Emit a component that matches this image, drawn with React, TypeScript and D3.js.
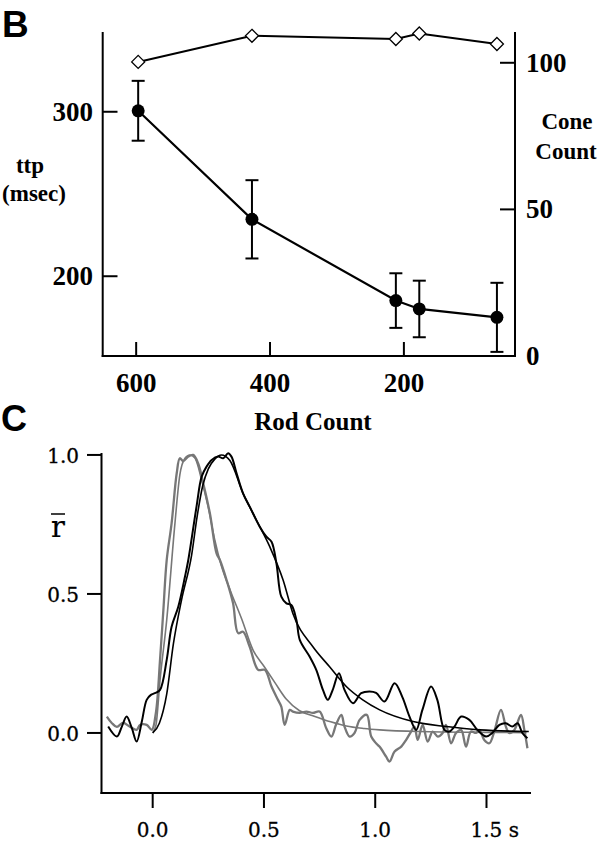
import React from "react";
import * as d3 from "d3";

// Panel B data
const rodCount = [597, 427, 212, 177, 61];
const ttpMean = [300.6, 234.6, 185.2, 180.1, 175.0];
const ttpErr = [18.2, 23.8, 16.6, 17.2, 21.0];
const coneCount = [100.3, 109.2, 108.1, 110.0, 106.4];
const rodTicks = [600, 400, 200];
const ttpTicks = [200, 300];
const coneTicks = [0, 50, 100];

// Panel C data [time s, normalized response]
const rTicks = [0, 0.5, 1.0];
const timeTicks = [0, 0.5, 1.0, 1.5];

const grayTrace: [number, number][] = [
  [-0.206, 0.059], [-0.184, 0.036], [-0.161, 0.022], [-0.133, 0.036], [-0.102, 0.022],
  [-0.072, 0.011], [-0.057, 0.029], [-0.027, 0.029], [-0.004, 0.011], [0.015, 0.076],
  [0.033, 0.263], [0.048, 0.442], [0.063, 0.622], [0.085, 0.754], [0.108, 0.934],
  [0.122, 0.988], [0.137, 0.978], [0.160, 0.994], [0.182, 1.0], [0.204, 0.970],
  [0.227, 0.898], [0.257, 0.790], [0.287, 0.646], [0.302, 0.622], [0.332, 0.550],
  [0.361, 0.467], [0.384, 0.359], [0.406, 0.364], [0.436, 0.310], [0.474, 0.227],
  [0.504, 0.227], [0.534, 0.167], [0.563, 0.119], [0.578, 0.095], [0.593, 0.029],
  [0.616, 0.083], [0.630, 0.077], [0.660, 0.072], [0.691, 0.077], [0.720, 0.072],
  [0.750, 0.077], [0.780, 0.017], [0.803, -0.013], [0.825, 0.032], [0.848, 0.065],
  [0.862, 0.023], [0.885, -0.013], [0.907, 0.0], [0.930, 0.047], [0.962, 0.065],
  [0.982, -0.013], [1.004, -0.037], [1.019, -0.049], [1.049, -0.085], [1.064, -0.103],
  [1.087, -0.067], [1.117, -0.049], [1.139, -0.025], [1.161, 0.005], [1.176, 0.023],
  [1.191, -0.025], [1.213, 0.029], [1.236, -0.031], [1.258, 0.005], [1.281, -0.013],
  [1.303, 0.0], [1.318, 0.029], [1.341, -0.037], [1.363, 0.0], [1.386, 0.011],
  [1.408, -0.049], [1.430, 0.005], [1.453, 0.0], [1.468, 0.011], [1.490, -0.025],
  [1.513, -0.037], [1.535, 0.005], [1.565, 0.083], [1.587, 0.023], [1.602, 0.0],
  [1.625, 0.011], [1.655, 0.065], [1.670, 0.011], [1.684, -0.055],
];

const grayFit: [number, number][] = [
  [0, 0], [0.015, 0.029], [0.033, 0.19], [0.063, 0.406], [0.1, 0.754], [0.122, 0.928],
  [0.145, 0.988], [0.167, 1.0], [0.19, 0.989], [0.22, 0.91], [0.249, 0.814], [0.279, 0.694],
  [0.309, 0.6], [0.35, 0.51], [0.4, 0.41], [0.45, 0.3], [0.5, 0.24], [0.55, 0.18],
  [0.6, 0.122], [0.66, 0.08], [0.72, 0.062], [0.8, 0.04], [0.87, 0.025], [0.95, 0.016],
  [1.02, 0.011], [1.2, 0.005], [1.5, 0.002], [1.68, 0.001],
];

const blackTrace: [number, number][] = [
  [-0.2, 0.023], [-0.161, -0.013], [-0.139, 0.022], [-0.117, 0.059], [-0.094, 0.018],
  [-0.072, -0.031], [-0.049, 0.04], [-0.027, 0.119], [-0.008, 0.137], [0.01, 0.143],
  [0.033, 0.155], [0.063, 0.263], [0.085, 0.382], [0.115, 0.454], [0.145, 0.562],
  [0.16, 0.622], [0.197, 0.814], [0.22, 0.922], [0.242, 0.958], [0.265, 0.982],
  [0.294, 0.994], [0.317, 0.988], [0.339, 1.006], [0.354, 0.994], [0.377, 0.934],
  [0.406, 0.862], [0.436, 0.814], [0.481, 0.742], [0.511, 0.706], [0.534, 0.688],
  [0.556, 0.61], [0.578, 0.49], [0.601, 0.466], [0.623, 0.46], [0.646, 0.406],
  [0.661, 0.335], [0.705, 0.275], [0.735, 0.227], [0.765, 0.155], [0.787, 0.119],
  [0.809, 0.155], [0.837, 0.215], [0.862, 0.155], [0.9, 0.107], [0.937, 0.143],
  [0.974, 0.149], [1.004, 0.144], [1.042, 0.113], [1.087, 0.179], [1.122, 0.129],
  [1.154, 0.059], [1.184, 0.011], [1.212, 0.083], [1.251, 0.167], [1.279, 0.119],
  [1.311, 0.011], [1.333, 0.005], [1.356, 0.023], [1.386, 0.059], [1.423, 0.047],
  [1.459, 0.011], [1.498, -0.013], [1.526, 0.0], [1.558, 0.029], [1.587, 0.035],
  [1.616, 0.023], [1.64, 0.035], [1.661, 0.0], [1.684, -0.019],
];

const blackFit: [number, number][] = [
  [0, 0], [0.03, 0.035], [0.063, 0.14], [0.093, 0.32], [0.13, 0.48], [0.175, 0.64],
  [0.2, 0.78], [0.225, 0.89], [0.25, 0.95], [0.279, 0.985], [0.309, 1.0], [0.347, 0.98],
  [0.406, 0.862], [0.466, 0.766], [0.526, 0.67], [0.586, 0.55], [0.63, 0.43], [0.72, 0.31],
  [0.795, 0.238], [0.87, 0.167], [0.944, 0.119], [1.02, 0.083], [1.17, 0.041],
  [1.32, 0.023], [1.47, 0.011], [1.69, 0.005],
];

const serifB = "'Liberation Serif', 'Times New Roman', serif";
const serifC = "'DejaVu Serif', serif";
const sans = "'Liberation Sans', Arial, sans-serif";
const GRAY = "#777777";

export default function App() {
  // Panel B scales
  const xB = d3.scaleLinear().domain([650, 34]).range([102.7, 515]);
  const yL = d3.scaleLinear().domain([151.5, 348.5]).range([356, 32]);
  const yR = d3.scaleLinear().domain([0, 110.5]).range([356, 32]);

  const ttpLine = d3
    .line<number>()
    .x((_, i) => xB(rodCount[i]))
    .y((d) => yL(d))(ttpMean) as string;
  const coneLine = d3
    .line<number>()
    .x((_, i) => xB(rodCount[i]))
    .y((d) => yR(d))(coneCount) as string;

  // Panel C scales
  const xC = d3.scaleLinear().domain([-0.23, 1.7]).range([101.5, 531]);
  const yC = d3.scaleLinear().domain([-0.216, 1.007]).range([793, 453]);
  const noisy = d3
    .line<[number, number]>()
    .x((d) => xC(d[0]))
    .y((d) => yC(d[1]))
    .curve(d3.curveCatmullRom.alpha(0.5));
  const smooth = d3
    .line<[number, number]>()
    .x((d) => xC(d[0]))
    .y((d) => yC(d[1]))
    .curve(d3.curveMonotoneX);

  const dia = 6.5;

  return (
    <svg
      width={600}
      height={848}
      style={{ position: "absolute", left: 0, top: 0, background: "#fff" }}
    >
      {/* ---------- Panel B ---------- */}
      <text x={2} y={37} fontFamily={sans} fontWeight="bold" fontSize={37}>B</text>

      {/* axes */}
      <g stroke="#000" strokeWidth={2} fill="none">
        <line x1={102.7} y1={32} x2={102.7} y2={357} />
        <line x1={515} y1={32} x2={515} y2={357} />
        <line x1={101.7} y1={356} x2={516} y2={356} />
        {rodTicks.map((t) => (
          <line key={"xt" + t} x1={xB(t)} x2={xB(t)} y1={356} y2={342} />
        ))}
        {ttpTicks.map((t) => (
          <line key={"yl" + t} x1={102.7} x2={117.5} y1={yL(t)} y2={yL(t)} />
        ))}
        {coneTicks.map((t) => (
          <line key={"yr" + t} x1={500} x2={515} y1={yR(t)} y2={yR(t)} />
        ))}
      </g>

      <g fontFamily={serifB} fontWeight="bold" fontSize={27} fill="#000">
        {rodTicks.map((t) => (
          <text key={"xl" + t} x={xB(t)} y={392} textAnchor="middle">{t}</text>
        ))}
        {ttpTicks.map((t) => (
          <text key={"ll" + t} x={93} y={yL(t) + 9} textAnchor="end">{t}</text>
        ))}
        {coneTicks.map((t) => (
          <text key={"rl" + t} x={526} y={yR(t) + 9} textAnchor="start">{t}</text>
        ))}
      </g>
      <g fontFamily={serifB} fontWeight="bold" fontSize={23} fill="#000" textAnchor="middle">
        <text x={30} y={173}>ttp</text>
        <text x={34} y={201}>(msec)</text>
        <text x={567} y={129}>Cone</text>
        <text x={566} y={159}>Count</text>
        <text x={313} y={430} fontSize={25}>Rod Count</text>
      </g>

      {/* cone count line */}
      <path d={coneLine} fill="none" stroke="#000" strokeWidth={2} />
      {coneCount.map((c, i) => {
        const cx = xB(rodCount[i]);
        const cy = yR(c);
        return (
          <path
            key={"d" + i}
            d={`M${cx},${cy - dia}L${cx + dia},${cy}L${cx},${cy + dia}L${cx - dia},${cy}Z`}
            fill="#fff"
            stroke="#000"
            strokeWidth={1.3}
          />
        );
      })}

      {/* ttp line + error bars */}
      <path d={ttpLine} fill="none" stroke="#000" strokeWidth={2.2} />
      <g stroke="#000" strokeWidth={2}>
        {ttpMean.map((m, i) => {
          const cx = xB(rodCount[i]);
          const y1 = yL(m + ttpErr[i]);
          const y2 = yL(m - ttpErr[i]);
          return (
            <g key={"e" + i}>
              <line x1={cx} x2={cx} y1={y1} y2={y2} />
              <line x1={cx - 6.5} x2={cx + 6.5} y1={y1} y2={y1} />
              <line x1={cx - 6.5} x2={cx + 6.5} y1={y2} y2={y2} />
            </g>
          );
        })}
      </g>
      {ttpMean.map((m, i) => (
        <circle key={"c" + i} cx={xB(rodCount[i])} cy={yL(m)} r={6.5} fill="#000" />
      ))}

      {/* ---------- Panel C ---------- */}
      <text x={1} y={431} fontFamily={sans} fontWeight="bold" fontSize={36}>C</text>

      <g stroke="#000" strokeWidth={2} fill="none">
        <line x1={101.5} y1={453} x2={101.5} y2={794} />
        <line x1={100.5} y1={793} x2={531} y2={793} />
        {rTicks.map((t) => (
          <line key={"ct" + t} x1={87} x2={101.5} y1={yC(t)} y2={yC(t)} />
        ))}
        {timeTicks.map((t) => (
          <line key={"tt" + t} x1={xC(t)} x2={xC(t)} y1={793} y2={808} />
        ))}
      </g>
      <g fontFamily={serifC} fontSize={20} fill="#000" stroke="#000" strokeWidth={0.3}>
        {rTicks.map((t) => (
          <text key={"rl" + t} x={79} y={yC(t) + 8} textAnchor="end">{d3.format(".1f")(t)}</text>
        ))}
        {timeTicks.map((t) => (
          <text key={"tl" + t} x={xC(t) - 16} y={837} textAnchor="start">
            {d3.format(".1f")(t) + (t === 1.5 ? " s" : "")}
          </text>
        ))}
        <text x={51} y={537} fontSize={29} strokeWidth={0.2}>r</text>
      </g>
      <line x1={51} x2={65} y1={514} y2={514} stroke="#000" strokeWidth={1.5} />

      {/* traces */}
      <path d={smooth(grayFit) as string} fill="none" stroke={GRAY} strokeWidth={1.6} />
      <path d={noisy(grayTrace) as string} fill="none" stroke={GRAY} strokeWidth={2.3} />
      <path d={smooth(blackFit) as string} fill="none" stroke="#000" strokeWidth={1.6} />
      <path d={noisy(blackTrace) as string} fill="none" stroke="#000" strokeWidth={2} />
    </svg>
  );
}
